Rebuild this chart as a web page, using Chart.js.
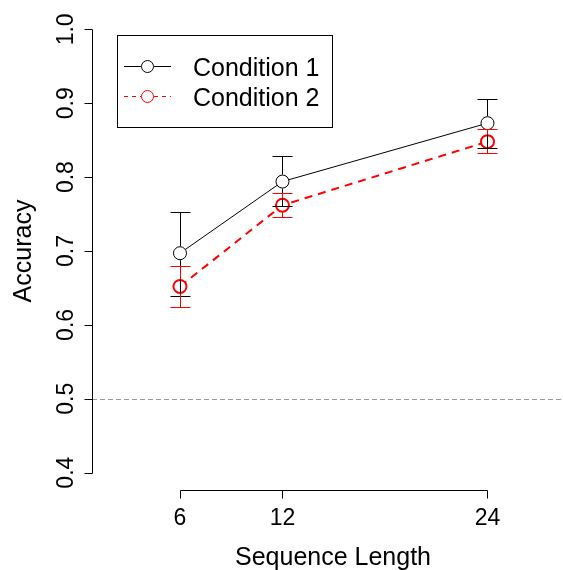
<!DOCTYPE html>
<html>
<head>
<meta charset="utf-8">
<script src="https://cdn.jsdelivr.net/npm/chart.js@4"></script>
<style>
  body { margin: 0; background: #fff; }
  canvas { display: block; }
</style>
</head>
<body>
<canvas id="grafico" width="563" height="570"></canvas>
<script>
// dados
const seqLength = [6, 12, 24];
const cond1Mean = [0.697, 0.794, 0.873];
const cond1Lower = [0.639, 0.761, 0.840];
const cond1Upper = [0.753, 0.828, 0.906];
const cond2Mean = [0.652, 0.762, 0.848];
const cond2Lower = [0.624, 0.746, 0.832];
const cond2Upper = [0.680, 0.778, 0.865];
const yTicks = [0.4, 0.5, 0.6, 0.7, 0.8, 0.9, 1.0];
const xTicks = [6, 12, 24];
const seriesNames = ['Condition 1', 'Condition 2'];
const chanceLevel = 0.5;

const fonte = '"Liberation Sans", Arial, sans-serif';

function pontos(medias) {
    let lista = [];
    for (let i = 0; i < seqLength.length; i++) {
        lista.push({ x: seqLength[i], y: medias[i] });
    }
    return lista;
}

const erros = [
    { lower: cond1Lower, upper: cond1Upper, mean: cond1Mean, cor: '#000000' },
    { lower: cond2Lower, upper: cond2Upper, mean: cond2Mean, cor: '#ff0000' }
];

// linha tracejada do acaso (0.5)
const linhaAcaso = {
    id: 'linhaAcaso',
    beforeDatasetsDraw(chart) {
        const ctx = chart.ctx;
        const y = Math.round(chart.scales.y.getPixelForValue(chanceLevel)) + 0.5;
        ctx.save();
        ctx.strokeStyle = '#999999';
        ctx.lineWidth = 1;
        ctx.setLineDash([5, 3]);
        ctx.beginPath();
        ctx.moveTo(chart.chartArea.left, y);
        ctx.lineTo(chart.width, y);
        ctx.stroke();
        ctx.restore();
    }
};

// barras de erro com espaco em volta do ponto
const barrasErro = {
    id: 'barrasErro',
    afterDatasetsDraw(chart) {
        const ctx = chart.ctx;
        const xs = chart.scales.x;
        const ys = chart.scales.y;
        const gap = 7;
        ctx.save();
        ctx.lineWidth = 1;
        for (let s = 0; s < erros.length; s++) {
            const e = erros[s];
            ctx.strokeStyle = e.cor;
            for (let i = 0; i < seqLength.length; i++) {
                const x = Math.round(xs.getPixelForValue(seqLength[i])) + 0.5;
                const ym = ys.getPixelForValue(e.mean[i]);
                const yu = Math.round(ys.getPixelForValue(e.upper[i])) + 0.5;
                const yl = Math.round(ys.getPixelForValue(e.lower[i])) + 0.5;
                ctx.beginPath();
                if (ym - yu > gap) {
                    ctx.moveTo(x, ym - gap);
                    ctx.lineTo(x, yu);
                }
                if (yl - ym > gap) {
                    ctx.moveTo(x, ym + gap);
                    ctx.lineTo(x, yl);
                }
                ctx.moveTo(x - 10, yu);
                ctx.lineTo(x + 10, yu);
                ctx.moveTo(x - 10, yl);
                ctx.lineTo(x + 10, yl);
                ctx.stroke();
            }
        }
        ctx.restore();
    }
};

// eixos no estilo do R e legenda
const eixosLegenda = {
    id: 'eixosLegenda',
    afterDraw(chart) {
        const ctx = chart.ctx;
        const xs = chart.scales.x;
        const ys = chart.scales.y;
        const area = chart.chartArea;
        ctx.save();
        ctx.strokeStyle = '#000';
        ctx.fillStyle = '#000';
        ctx.lineWidth = 1;

        // eixo y
        const xEixo = Math.round(area.left) + 0.5;
        ctx.beginPath();
        ctx.moveTo(xEixo, Math.round(ys.getPixelForValue(yTicks[0])) + 0.5);
        ctx.lineTo(xEixo, Math.round(ys.getPixelForValue(yTicks[yTicks.length - 1])) + 0.5);
        for (let i = 0; i < yTicks.length; i++) {
            const y = Math.round(ys.getPixelForValue(yTicks[i])) + 0.5;
            ctx.moveTo(xEixo, y);
            ctx.lineTo(xEixo - 8, y);
        }
        ctx.stroke();
        ctx.font = '23px ' + fonte;
        ctx.textAlign = 'center';
        ctx.textBaseline = 'alphabetic';
        for (let i = 0; i < yTicks.length; i++) {
            const y = ys.getPixelForValue(yTicks[i]);
            ctx.save();
            ctx.translate(73, y);
            ctx.rotate(-Math.PI / 2);
            ctx.fillText(yTicks[i].toFixed(1), 0, 0);
            ctx.restore();
        }
        ctx.font = '25px ' + fonte;
        ctx.save();
        ctx.translate(31, (area.top + area.bottom) / 2);
        ctx.rotate(-Math.PI / 2);
        ctx.fillText('Accuracy', 0, 0);
        ctx.restore();

        // eixo x
        const yEixo = Math.round(area.bottom) + 0.5;
        ctx.beginPath();
        ctx.moveTo(Math.round(xs.getPixelForValue(xTicks[0])) + 0.5, yEixo);
        ctx.lineTo(Math.round(xs.getPixelForValue(xTicks[xTicks.length - 1])) + 0.5, yEixo);
        for (let i = 0; i < xTicks.length; i++) {
            const x = Math.round(xs.getPixelForValue(xTicks[i])) + 0.5;
            ctx.moveTo(x, yEixo);
            ctx.lineTo(x, yEixo + 8);
        }
        ctx.stroke();
        ctx.font = '23px ' + fonte;
        for (let i = 0; i < xTicks.length; i++) {
            ctx.fillText(String(xTicks[i]), xs.getPixelForValue(xTicks[i]), 525);
        }
        ctx.font = '25px ' + fonte;
        ctx.fillText('Sequence Length', 333, 565);

        // legenda
        ctx.strokeRect(117.5, 35.5, 215, 92);
        const linhasY = [66.5, 96.5];
        const dsets = chart.data.datasets;
        for (let i = 0; i < dsets.length; i++) {
            const y = linhasY[i];
            ctx.strokeStyle = dsets[i].borderColor;
            ctx.lineWidth = 1;
            ctx.setLineDash(i == 0 ? [] : [4, 4]);
            ctx.beginPath();
            ctx.moveTo(124, y);
            ctx.lineTo(141, y);
            ctx.moveTo(154, y);
            ctx.lineTo(171, y);
            ctx.stroke();
            ctx.setLineDash([]);
            ctx.beginPath();
            ctx.arc(147.5, y, 6, 0, Math.PI * 2);
            ctx.stroke();
            ctx.fillStyle = '#000';
            ctx.textAlign = 'left';
            ctx.font = '25px ' + fonte;
            ctx.fillText(dsets[i].label, 193, y + 9);
        }
        ctx.restore();
    }
};

const ctx = document.getElementById('grafico').getContext('2d');
const grafico = new Chart(ctx, {
    type: 'line',
    data: {
        datasets: [{
            label: seriesNames[0],
            data: pontos(cond1Mean),
            borderColor: '#000000',
            borderWidth: 1,
            pointRadius: 6.5,
            pointBorderWidth: 1,
            pointBorderColor: '#000000',
            pointBackgroundColor: '#ffffff',
            tension: 0,
            fill: false
        }, {
            label: seriesNames[1],
            data: pontos(cond2Mean),
            borderColor: '#ff0000',
            borderWidth: 2,
            borderDash: [8, 6],
            pointRadius: 6.5,
            pointBorderWidth: 2,
            pointBorderColor: '#ff0000',
            pointBackgroundColor: '#ffffff',
            tension: 0,
            fill: false
        }]
    },
    options: {
        responsive: false,
        animation: false,
        events: [],
        layout: {
            autoPadding: false,
            padding: { left: 92, right: 0, top: 11.6, bottom: 79.6 }
        },
        scales: {
            x: { type: 'linear', min: 0.85, max: 28.42, display: false },
            y: { type: 'linear', min: 0.376, max: 1.024, display: false }
        },
        plugins: {
            legend: { display: false },
            tooltip: { enabled: false }
        }
    },
    plugins: [linhaAcaso, barrasErro, eixosLegenda]
});
</script>
</body>
</html>
